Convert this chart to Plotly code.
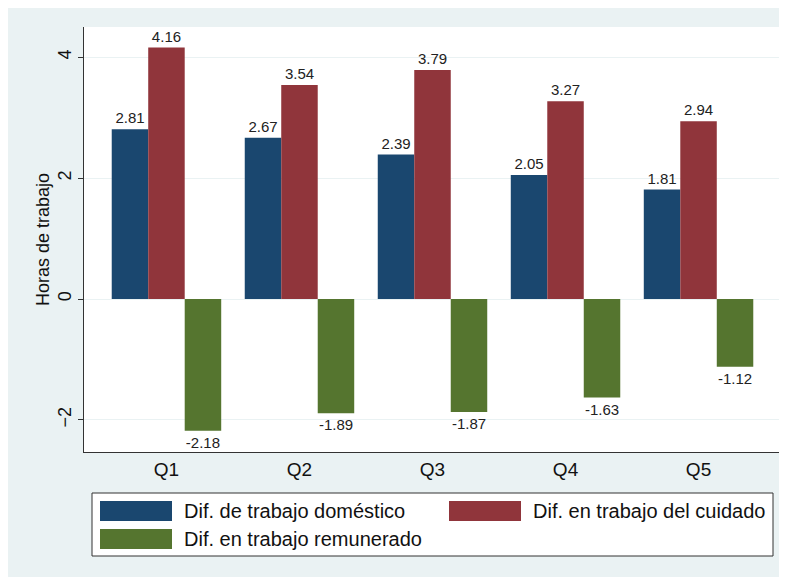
import plotly.graph_objects as go

# Datos
quintiles = ['Q1', 'Q2', 'Q3', 'Q4', 'Q5']
domestico = [2.81, 2.67, 2.39, 2.05, 1.81]
cuidado = [4.16, 3.54, 3.79, 3.27, 2.94]
remunerado = [-2.18, -1.89, -1.87, -1.63, -1.12]

series_names = ['Dif. de trabajo doméstico', 'Dif. en trabajo del cuidado',
                'Dif. en trabajo remunerado']
series_colors = ['#1a476f', '#90353b', '#55752f']

bg_color = '#eaf2f3'
font_family = 'Liberation Sans, Arial, sans-serif'

# figure sits at an 8px offset in the page (body margin)
W, H = 777, 569
L, R, T, B = 76, 4, 19, 125
pw, ph = W - L - R, H - T - B


def px_x(x):
    # page pixel -> paper coordinate
    return (x - 8 - L) / pw


def px_y(y):
    return (H - B - (y - 8)) / ph


fig = go.Figure()
for name, vals, col in zip(series_names, [domestico, cuidado, remunerado], series_colors):
    fig.add_trace(go.Bar(
        x=quintiles, y=vals, name=name,
        marker=dict(color=col, line=dict(width=0)),
        text=[f'{v:.2f}' for v in vals],
        textposition='outside',
        textfont=dict(size=15, color='#222222', family=font_family),
        cliponaxis=False,
        constraintext='none',
        showlegend=False,
    ))

shapes = []
# legend box
shapes.append(dict(type='rect', xref='paper', yref='paper',
                   x0=px_x(92), x1=px_x(773), y0=px_y(556), y1=px_y(493),
                   fillcolor='white', line=dict(color='#333333', width=1)))

legend_pos = [(100, 511), (449, 511), (100, 539)]
annotations = []
for (lx, ly), name, col in zip(legend_pos, series_names, series_colors):
    shapes.append(dict(type='rect', xref='paper', yref='paper',
                       x0=px_x(lx), x1=px_x(lx + 72), y0=px_y(ly + 10), y1=px_y(ly - 10),
                       fillcolor=col, line=dict(width=0)))
    annotations.append(dict(xref='paper', yref='paper', x=px_x(lx + 82), y=px_y(ly),
                            text=name, showarrow=False, xanchor='left', yanchor='middle',
                            font=dict(size=20, color='#111111', family=font_family)))

fig.update_layout(
    width=W, height=H,
    margin=dict(l=L, r=R, t=T, b=B),
    paper_bgcolor=bg_color,
    plot_bgcolor='white',
    barmode='group',
    bargap=0.177,
    bargroupgap=0,
    font=dict(family=font_family, color='#111111'),
    shapes=shapes,
    annotations=annotations,
    xaxis=dict(
        range=[-0.62, 4.62],
        showline=True, linecolor='#333333', linewidth=1,
        ticks='', showgrid=False,
        tickfont=dict(size=19),
    ),
    yaxis=dict(
        range=[-2.53, 4.5],
        tickvals=[-2, 0, 2, 4],
        tickangle=-90,
        ticks='outside', ticklen=5, tickcolor='#333333',
        showline=True, linecolor='#333333', linewidth=1,
        showgrid=True, gridcolor=bg_color, gridwidth=1,
        zeroline=False,
        tickfont=dict(size=18),
        title=dict(text='Horas de trabajo', font=dict(size=18), standoff=0),
    ),
)

fig.write_html('out.html')
